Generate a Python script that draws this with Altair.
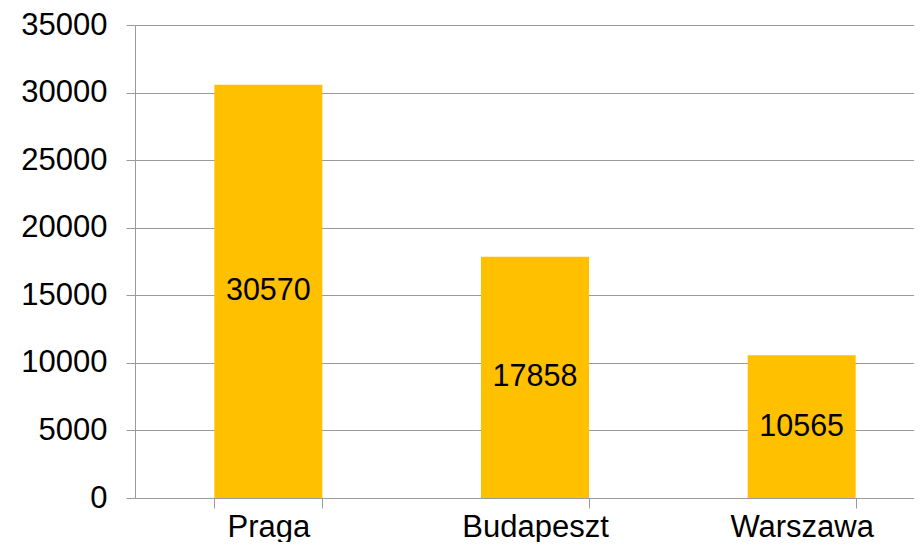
import altair as alt
import pandas as pd

cities = ["Praga", "Budapeszt", "Warszawa"]
values = [30570, 17858, 10565]
y_ticks = [0, 5000, 10000, 15000, 20000, 25000, 30000, 35000]

df = pd.DataFrame({"city": cities, "value": values})

GRAY = "#9a9a9a"
FONT = "Liberation Sans"

x_enc = alt.X(
    "city:N",
    sort=cities,
    scale=alt.Scale(range=[0, 800], paddingInner=0.595, paddingOuter=0.2975),
    axis=alt.Axis(
        title=None,
        labelAngle=0,
        labelFont=FONT,
        labelFontSize=31,
        labelColor="black",
        tickBand="extent",
        tickSize=10,
        tickColor=GRAY,
        domainColor=GRAY,
        labelPadding=4,
        grid=False,
    ),
)

bars = alt.Chart(df).mark_bar(color="#FFC000").encode(
    x=x_enc,
    y=alt.Y(
        "value:Q",
        scale=alt.Scale(domain=[0, 35000], nice=False),
        axis=alt.Axis(
            title=None,
            values=y_ticks,
            format="d",
            labelFont=FONT,
            labelFontSize=31,
            labelColor="black",
            tickSize=9,
            tickColor=GRAY,
            domainColor=GRAY,
            gridColor=GRAY,
            labelPadding=19,
        ),
    ),
)

labels = alt.Chart(df).transform_calculate(half="datum.value / 2").mark_text(
    font=FONT, fontSize=30.5, color="black", align="center", baseline="middle"
).encode(
    x=alt.X("city:N", sort=cities),
    y=alt.Y("half:Q"),
    text=alt.Text("value:Q", format="d"),
)

chart = (
    alt.layer(bars, labels)
    .properties(
        width=779,
        height=473,
        autosize=alt.AutoSizeParams(type="none"),
        padding={"left": 127, "top": 17, "right": 0, "bottom": 44},
    )
    .configure_view(stroke="transparent")
    .configure_axis(gridWidth=1, domainWidth=1, tickWidth=1)
)

chart.save("out.html", embed_options={"renderer": "svg", "actions": False})
